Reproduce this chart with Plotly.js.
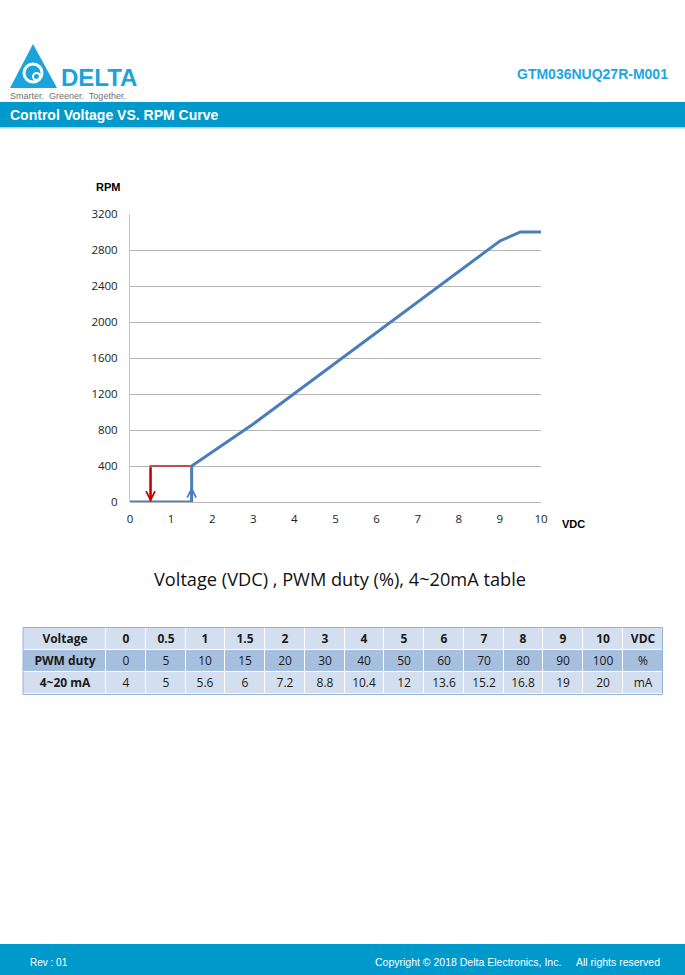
<!DOCTYPE html>
<html><head><meta charset="utf-8">
<script src="https://cdn.plot.ly/plotly-3.0.1.min.js"></script>
<style>html,body{margin:0;padding:0;background:#fff;}#chart{width:685px;height:975px;}</style>
</head><body><div id="chart"></div>
<script>
// ---- data ----
var curveVdc = [0, 1.5, 1.5, 3, 4, 5, 6, 7, 8, 9, 9.5, 10];
var curveRpm = [0, 0, 400, 867, 1206, 1545, 1884, 2223, 2562, 2900, 3000, 3000];
var offVdc = [1.5, 0.5, 0.5];
var offRpm = [400, 400, 0];
var arrowVdc = [1.5, 0.5];
var arrowTipRpm = [170, 0];
var arrowTailRpm = [0, 400];
var rowLabels = ['Voltage', 'PWM duty', '4~20 mA'];
var voltageRow = ['0', '0.5', '1', '1.5', '2', '3', '4', '5', '6', '7', '8', '9', '10', 'VDC'];
var pwmRow = ['0', '5', '10', '15', '20', '30', '40', '50', '60', '70', '80', '90', '100', '%'];
var maRow = ['4', '5', '5.6', '6', '7.2', '8.8', '10.4', '12', '13.6', '15.2', '16.8', '19', '20', 'mA'];

var W = 685, H = 975;
function X(p){return p/W;}
function Y(p){return 1-p/H;}
var BLUE_BAR = '#0099cc';
var LOGO = '#1aa3dc';
var blueCol = '#4a7ebb', redCol = '#c0504d';

var traces = [
  {x: curveVdc, y: curveRpm, type: 'scatter', mode: 'lines', line: {color: blueCol, width: 3}, cliponaxis: false, hoverinfo: 'skip'},
  {x: offVdc, y: offRpm, type: 'scatter', mode: 'lines', line: {color: redCol, width: 2.2}, cliponaxis: false, hoverinfo: 'skip'}
];

// ---- table as a heatmap grid ----
var tableRows = [voltageRow, pwmRow, maRow];
var firstW = 83, colWd = 39.75;
var xEdges = [0, firstW];
for (var j = 0; j < voltageRow.length; j++) xEdges.push(firstW + (j + 1) * colWd);
var yEdges = [0, 1, 2, 3];
var zGrid = [], tGrid = [];
for (var r = 0; r < tableRows.length; r++) {
  var zr = [r === 1 ? 1 : 0], tr = ['<b>' + rowLabels[r] + '</b>'];
  for (var c = 0; c < tableRows[r].length; c++) {
    zr.push(r === 1 ? 1 : 0);
    tr.push(r === 0 ? '<b>' + tableRows[r][c] + '</b>' : tableRows[r][c]);
  }
  zGrid.push(zr); tGrid.push(tr);
}
traces.push({
  type: 'heatmap', xaxis: 'x2', yaxis: 'y2', x: xEdges, y: yEdges, z: zGrid, text: tGrid,
  texttemplate: '%{text}', textfont: {family: 'Open Sans, sans-serif', size: 12, color: '#1a1a1a'},
  colorscale: [[0, '#d3dfee'], [0.5, '#d3dfee'], [0.5, '#a7bfde'], [1, '#a7bfde']],
  zmin: 0, zmax: 1, showscale: false, xgap: 1, ygap: 1, hoverinfo: 'skip'
});

var annotations = [];
for (var k = 0; k < arrowVdc.length; k++) {
  annotations.push({xref: 'x', yref: 'y', axref: 'x', ayref: 'y', x: arrowVdc[k], y: arrowTipRpm[k],
    ax: arrowVdc[k], ay: arrowTailRpm[k], text: '', showarrow: true, arrowhead: 5,
    arrowsize: k === 0 ? 0.7 : 0.8, arrowwidth: k === 0 ? 2.5 : 2.2, arrowcolor: k === 0 ? blueCol : '#c00000', standoff: 0});
}
function txt(t, x, y, opts){
  var a = {xref: 'paper', yref: 'paper', x: X(x), y: Y(y), text: t, showarrow: false, borderpad: 0,
    xanchor: 'left', yanchor: 'middle', font: {family: 'Liberation Sans, Arial, sans-serif', size: 12, color: '#000'}};
  for (var key in opts) a[key] = opts[key];
  return a;
}
annotations.push(txt('<b>RPM</b>', 108, 187, {xanchor: 'center', font: {family: 'Liberation Sans, Arial, sans-serif', size: 11, color: '#000'}}));
annotations.push(txt('<b>VDC</b>', 573, 524, {xanchor: 'center', font: {family: 'Liberation Sans, Arial, sans-serif', size: 11, color: '#000'}}));
annotations.push(txt('Voltage (VDC) , PWM duty (%), 4~20mA table', 339.5, 579, {xanchor: 'center', font: {family: 'Open Sans, sans-serif', size: 18.2, color: '#111', weight: 500}}));
annotations.push(txt('<b>GTM036NUQ27R-M001</b>', 669, 74, {xanchor: 'right', font: {family: 'Liberation Sans, Arial, sans-serif', size: 14, color: '#1ea6e0'}}));
annotations.push(txt('<b>Control Voltage VS. RPM Curve</b>', 9, 115, {font: {family: 'Liberation Sans, Arial, sans-serif', size: 14, color: '#ffffff'}}));
annotations.push(txt('<b>DELTA</b>', 60, 77, {font: {family: 'Liberation Sans Narrow, Liberation Sans, Arial, sans-serif', size: 24, color: LOGO}}));
annotations.push(txt('Smarter.  Greener.  Together.', 9, 95.5, {font: {family: 'Liberation Sans, Arial, sans-serif', size: 9, color: '#707070'}}));
annotations.push(txt('Rev : 01', 29, 962, {font: {family: 'Liberation Sans, Arial, sans-serif', size: 10, color: '#ffffff'}}));
annotations.push(txt('Copyright © 2018 Delta Electronics, Inc.', 562, 962, {xanchor: 'right', font: {family: 'Liberation Sans, Arial, sans-serif', size: 10.5, color: '#ffffff'}}));
annotations.push(txt('All rights reserved', 661, 962, {xanchor: 'right', font: {family: 'Liberation Sans, Arial, sans-serif', size: 10.5, color: '#ffffff'}}));

var shapes = [
  {type: 'rect', xref: 'paper', yref: 'paper', x0: 0, x1: 1, y0: Y(127), y1: Y(102), fillcolor: BLUE_BAR, line: {width: 0}, layer: 'below'},
  {type: 'rect', xref: 'paper', yref: 'paper', x0: 0, x1: 1, y0: Y(128.5), y1: Y(127), fillcolor: '#9fd6ec', line: {width: 0}, layer: 'below'},
  {type: 'rect', xref: 'paper', yref: 'paper', x0: 0, x1: 1, y0: 0, y1: Y(944), fillcolor: BLUE_BAR, line: {width: 0}, layer: 'below'},
  {type: 'path', xref: 'paper', yref: 'paper', path: 'M' + X(33) + ',' + Y(44) + ' L' + X(57) + ',' + Y(88) + ' L' + X(10) + ',' + Y(88) + ' Z', fillcolor: LOGO, line: {width: 0}, layer: 'below'},
  {type: 'circle', xref: 'paper', yref: 'paper', x0: X(24), x1: X(42), y0: Y(82), y1: Y(64), line: {color: '#ffffff', width: 3}, layer: 'above'},
  {type: 'circle', xref: 'paper', yref: 'paper', x0: X(33), x1: X(40), y0: Y(80), y1: Y(73), line: {color: '#ffffff', width: 2}, layer: 'above'},
  {type: 'rect', xref: 'paper', yref: 'paper', x0: X(23), x1: X(23 + xEdges[xEdges.length - 1]), y0: Y(694.5), y1: Y(627.5), line: {color: '#95b3d7', width: 1}, layer: 'above'}
];

var layout = {
  width: W, height: H, autosize: false, showlegend: false,
  margin: {l: 0, r: 0, t: 0, b: 0}, paper_bgcolor: '#ffffff', plot_bgcolor: '#ffffff',
  xaxis: {domain: [X(130), X(541)], range: [0, 10], dtick: 1, tick0: 0, showgrid: false, zeroline: false, showline: false,
    ticks: '', ticklabelstandoff: 8, tickfont: {family: 'Open Sans, sans-serif', size: 11.5, color: '#222'}, fixedrange: true},
  yaxis: {domain: [Y(502), Y(214)], range: [0, 3200], dtick: 400, tick0: 0, showgrid: true, gridcolor: '#b5b5b5', gridwidth: 1,
    zeroline: true, zerolinecolor: '#b5b5b5', zerolinewidth: 1, showline: true, linecolor: '#c4c4c4', linewidth: 1,
    ticks: '', ticklabelstandoff: 9, tickfont: {family: 'Open Sans, sans-serif', size: 11.5, color: '#222'}, fixedrange: true},
  xaxis2: {domain: [X(23), X(23 + xEdges[xEdges.length - 1])], range: [0, xEdges[xEdges.length - 1]], visible: false, fixedrange: true, anchor: 'y2'},
  yaxis2: {domain: [Y(694), Y(628)], range: [3, 0], visible: false, fixedrange: true, anchor: 'x2'},
  annotations: annotations, shapes: shapes
};
Plotly.newPlot('chart', traces, layout, {staticPlot: true});
</script></body></html>
